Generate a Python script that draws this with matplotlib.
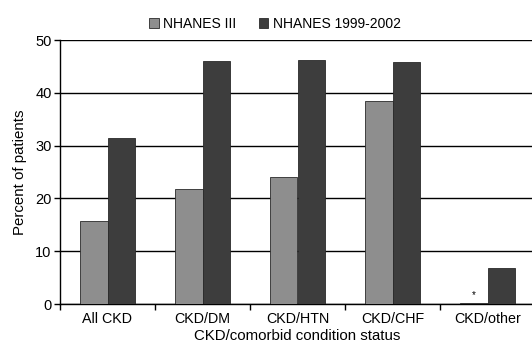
import matplotlib
matplotlib.use("Agg")
import matplotlib.pyplot as plt
import numpy as np

plt.rcParams['font.family'] = ['Liberation Sans', 'DejaVu Sans']

categories = ["All CKD", "CKD/DM", "CKD/HTN", "CKD/CHF", "CKD/other"]
nhanes3 = [15.7, 21.7, 24.0, 38.5, 0.2]
nhanes9902 = [31.5, 46.0, 46.2, 45.8, 6.9]
series_names = ["NHANES III", "NHANES 1999-2002"]
yticks = [0, 10, 20, 30, 40, 50]

fig = plt.figure(figsize=(5.32, 3.45), dpi=100)
ax = fig.add_axes([60/532, 41/345, 475/532, 264/345])

x = np.arange(len(categories))
w = 0.285
b1 = ax.bar(x - w/2, nhanes3, w, color="#8e8e8e", edgecolor="#2a2a2a", linewidth=0.6,
            label=series_names[0], zorder=3)
b2 = ax.bar(x + w/2, nhanes9902, w, color="#3d3d3d", edgecolor="#2a2a2a", linewidth=0.6,
            label=series_names[1], zorder=3)

ax.set_xlim(-0.5, len(categories) - 0.5)
ax.set_ylim(0, 50)
ax.set_yticks(yticks)
ax.yaxis.grid(True, color="black", linewidth=1.0, zorder=1)
ax.set_axisbelow(True)

ax.set_xticks(np.arange(len(categories) + 1) - 0.5)
ax.set_xticklabels([])
ax.set_xticks(x, minor=True)
ax.set_xticklabels(categories, minor=True)
ax.tick_params(axis='x', which='major', length=4, width=1, direction='out', color='black')
ax.tick_params(axis='x', which='minor', length=0, pad=6, labelsize=10.3)
ax.tick_params(axis='y', length=4, width=1, labelsize=10.5, pad=2)

for s in ['top', 'right']:
    ax.spines[s].set_visible(False)
ax.spines['left'].set_linewidth(1.0)
ax.spines['bottom'].set_linewidth(1.0)

ax.text(x[4] - w/2, nhanes3[4] + 0.6, "*", ha='center', va='bottom', fontsize=7)

ax.set_ylabel("Percent of patients", fontsize=10.8, labelpad=6)
ax.set_xlabel("CKD/comorbid condition status", fontsize=10.8, labelpad=2)

fig.legend(handles=[b1, b2], loc='upper center', bbox_to_anchor=(275/532, 1 - 17/345),
           ncol=2, frameon=False, fontsize=10, handlelength=0.7, handleheight=0.7,
           handletextpad=0.3, columnspacing=1.6, borderaxespad=0, borderpad=0)

fig.savefig("out.png", dpi=100)
